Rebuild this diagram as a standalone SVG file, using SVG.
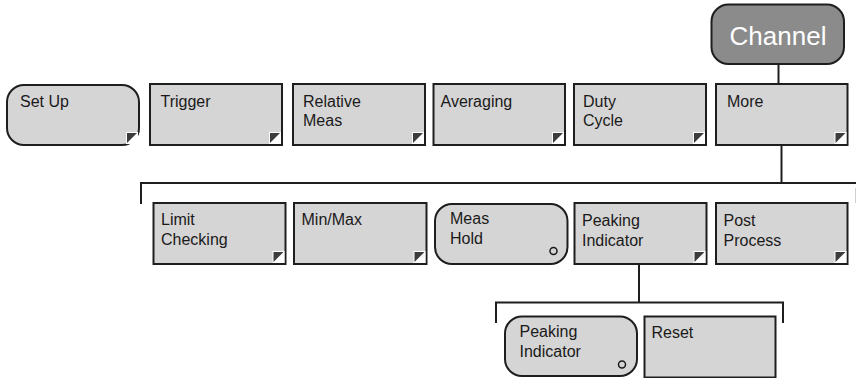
<svg xmlns="http://www.w3.org/2000/svg" width="856" height="378" viewBox="0 0 856 378">
<defs>
<style>
.box{fill:#d6d5d5;stroke:#1e1e1e;stroke-width:2}
.lbl{font-family:"Liberation Sans",Arial,sans-serif;font-size:16px;fill:#1a1a1a}
.conn{stroke:#1e1e1e;stroke-width:2;fill:none}
.sq{fill:#ffffff}
.tri{fill:#3c3c3c}
.dot{fill:none;stroke:#1a1a1a;stroke-width:1.5}
</style>
<g id="corner">
<rect class="sq" x="-13" y="-13" width="12" height="12"/>
<polygon class="tri" points="-12,-12 -2,-12 -12,-2"/>
</g>
</defs>
<rect width="856" height="378" fill="#ffffff"/>
<g id="connectors">
<line class="conn" x1="778.5" y1="64" x2="778.5" y2="84"/>
<polyline class="conn" points="781.5,145 781.5,183"/>
<polyline class="conn" points="141,204 141,183 856,183"/>
<line x1="855.5" y1="188" x2="855.5" y2="203" stroke="#d0d0d0" stroke-width="1"/>
<line class="conn" x1="639" y1="264" x2="639" y2="302.5"/>
<polyline class="conn" points="496,323 496,302.5 783,302.5 783,323"/>
</g>
<g id="channel">
<rect x="711.5" y="4.5" width="132.5" height="59.5" rx="17" fill="#8b8b8b" stroke="#1e1e1e" stroke-width="2"/>
<text x="778" y="45" text-anchor="middle" font-family="Liberation Sans,Arial,sans-serif" font-size="26" fill="#ffffff">Channel</text>
</g>
<g id="setup">
<rect class="box" x="7" y="85" width="132" height="60" rx="17"/>
<text class="lbl" x="20" y="107">Set Up</text>
<use href="#corner" x="139" y="145"/>
</g>
<g id="trigger">
<rect class="box" x="150" y="84" width="132" height="61"/>
<text class="lbl" x="160.5" y="107">Trigger</text>
<use href="#corner" x="282" y="145"/>
</g>
<g id="relative">
<rect class="box" x="293" y="84" width="132" height="61"/>
<text class="lbl" x="303" y="107">Relative</text>
<text class="lbl" x="303" y="126">Meas</text>
<use href="#corner" x="425" y="145"/>
</g>
<g id="averaging">
<rect class="box" x="433.5" y="84" width="131.5" height="61"/>
<text class="lbl" x="440.5" y="107">Averaging</text>
<use href="#corner" x="565" y="145"/>
</g>
<g id="duty">
<rect class="box" x="574" y="84" width="132" height="61"/>
<text class="lbl" x="583" y="107">Duty</text>
<text class="lbl" x="583" y="126">Cycle</text>
<use href="#corner" x="706" y="145"/>
</g>
<g id="more">
<rect class="box" x="716" y="84" width="131.5" height="61"/>
<text class="lbl" x="727" y="107">More</text>
<use href="#corner" x="847.5" y="145"/>
</g>
<g id="limit">
<rect class="box" x="153.5" y="203" width="132" height="61"/>
<text class="lbl" x="161" y="225">Limit</text>
<text class="lbl" x="161" y="245">Checking</text>
<use href="#corner" x="285.5" y="264"/>
</g>
<g id="minmax">
<rect class="box" x="294" y="203" width="132.5" height="61"/>
<text class="lbl" x="301.5" y="225">Min/Max</text>
<use href="#corner" x="426.5" y="264"/>
</g>
<g id="meashold">
<rect class="box" x="435" y="204" width="132.5" height="60" rx="17"/>
<text class="lbl" x="450" y="224">Meas</text>
<text class="lbl" x="450" y="244">Hold</text>
<circle class="dot" cx="553.5" cy="251" r="3.5"/>
</g>
<g id="peaking">
<rect class="box" x="574.5" y="203" width="132" height="61"/>
<text class="lbl" x="582" y="226">Peaking</text>
<text class="lbl" x="582" y="246">Indicator</text>
<use href="#corner" x="706.5" y="264"/>
</g>
<g id="postprocess">
<rect class="box" x="716" y="203" width="131.5" height="61"/>
<text class="lbl" x="723.5" y="226">Post</text>
<text class="lbl" x="723.5" y="246">Process</text>
<use href="#corner" x="847.5" y="264"/>
</g>
<g id="peaking2">
<rect class="box" x="505" y="316.5" width="132" height="59.5" rx="17"/>
<text class="lbl" x="519.5" y="337">Peaking</text>
<text class="lbl" x="519.5" y="357">Indicator</text>
<circle class="dot" cx="622" cy="364.5" r="3.5"/>
</g>
<g id="reset">
<rect class="box" x="644.5" y="316.5" width="131" height="61"/>
<text class="lbl" x="651.5" y="338">Reset</text>
</g>
</svg>
